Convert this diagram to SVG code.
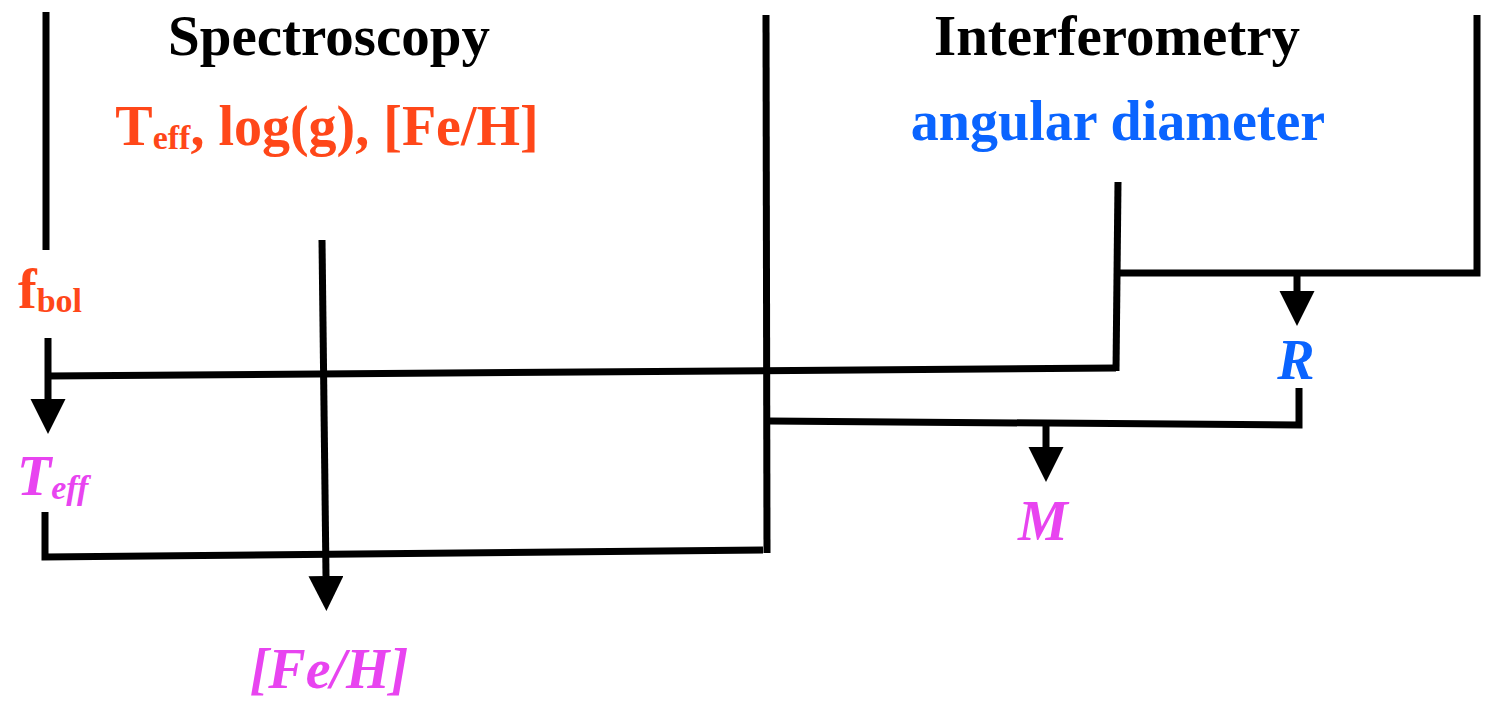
<svg xmlns="http://www.w3.org/2000/svg" width="1489" height="705" viewBox="0 0 1489 705">
<style>
.hd{font-family:"Liberation Serif","Times New Roman",serif;font-weight:bold;font-size:57px;fill:#000}
.red{font-family:"Liberation Serif","Times New Roman",serif;font-weight:bold;font-size:56px;fill:#ff4719}
.blue{font-family:"Liberation Serif","Times New Roman",serif;font-weight:bold;font-size:56px;fill:#0a64ff}
.var{font-family:"Liberation Serif","Times New Roman",serif;font-weight:bold;font-style:italic;font-size:56px}
.pk{fill:#e844f0}
.bl{fill:#0a64ff}
.sub{font-size:34px}
.ln{fill:none;stroke:#000;stroke-width:7;stroke-linejoin:miter;stroke-linecap:butt}
</style>
<defs>
<marker id="ah" markerUnits="userSpaceOnUse" markerWidth="36" markerHeight="36" refX="0" refY="17.5" orient="auto">
<path d="M0,0 L35,17.5 L0,35 z" fill="#000"/>
</marker>
</defs>
<rect width="1489" height="705" fill="#fff"/>
<g id="connectors">
<path class="ln" d="M46,12 L46,250"/>
<path class="ln" d="M48,338 L48,399" marker-end="url(#ah)"/>
<path class="ln" d="M48,376 L1116,368"/>
<path class="ln" d="M1116,371 L1118,182"/>
<path class="ln" d="M1118,273 L1477,273 L1477,15"/>
<path class="ln" d="M1297,273 L1297,291" marker-end="url(#ah)"/>
<path class="ln" d="M1299,388 L1299,425 L769,421"/>
<path class="ln" d="M766,15 L767,553"/>
<path class="ln" d="M1046,423 L1046,447" marker-end="url(#ah)"/>
<path class="ln" d="M45,512 L45,557 L763,550"/>
<path class="ln" d="M322,240 L326,576" marker-end="url(#ah)"/>
</g>
<g id="spectroscopy"><text class="hd" x="329" y="55" text-anchor="middle">Spectroscopy</text></g>
<g id="spec-params"><text class="red" x="327" y="145" text-anchor="middle">T<tspan class="sub" dy="4">eff</tspan><tspan dy="-4">, log(g), [Fe/H]</tspan></text></g>
<g id="interferometry"><text class="hd" x="1117" y="55" text-anchor="middle">Interferometry</text></g>
<g id="angular-diameter"><text class="blue" x="1118" y="140" text-anchor="middle">angular diameter</text></g>
<g id="fbol"><text class="red" x="18" y="308">f<tspan class="sub" dy="4">bol</tspan></text></g>
<g id="teff"><text class="var pk" x="17" y="495">T<tspan class="sub" dy="4">eff</tspan></text></g>
<g id="R"><text class="var bl" x="1296" y="379" text-anchor="middle">R</text></g>
<g id="M"><text class="var pk" x="1043" y="540" text-anchor="middle">M</text></g>
<g id="feh"><text class="var pk" x="329" y="688" text-anchor="middle">[Fe/H]</text></g>
</svg>
